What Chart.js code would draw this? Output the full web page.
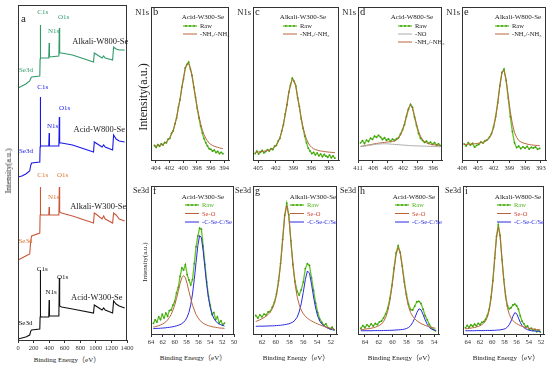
<!DOCTYPE html>
<html>
<head>
<meta charset="utf-8">
<title>XPS survey / N1s / Se3d</title>
<script src="https://cdn.jsdelivr.net/npm/chart.js"></script>
<style>
  body { margin: 0; background: #fff; }
  #fig { position: relative; width: 550px; height: 367px; overflow: hidden;
         font-family: 'Liberation Serif', 'Noto Sans CJK SC', serif; color: #222; }
  #fig canvas { position: absolute; }
  .t { position: absolute; white-space: nowrap; line-height: 1; z-index: 2; }
</style>
</head>
<body>
<div id="fig"></div>
<script>
// ---------- a: survey spectra (binding energy, eV) ----------
var surveyE = [0, 50, 100, 150, 165, 175, 280, 284, 287, 290, 300, 395, 400, 404, 525, 531, 535, 560, 700, 970, 980, 1000, 1080, 1100, 1120, 1215, 1228, 1260, 1300, 1370];
var surveyAlkaliW800 = [252, 254, 256, 259, 262, 263, 264, 281, 315, 282, 282, 282, 297, 283, 284, 312, 287, 287, 285, 278, 287, 286, 282, 284, 282, 280, 293, 291, 290, 290];
var surveyAcidW800 = [163, 164, 166, 169, 175, 177, 178, 193, 243, 194, 194, 194, 207, 194, 194, 223, 197, 197, 195, 188, 198, 197, 193, 195, 193, 190, 205, 201, 199, 198];
var surveyAlkaliW300 = [80, 82, 84, 86, 100, 104, 107, 125, 153, 126, 125, 125, 133, 125, 125, 153, 128, 127, 124, 117, 127, 126, 121, 124, 121, 117, 127, 125, 121, 119];
var surveyAcidW300 = [1, 2, 3, 5, 9, 10, 11, 23, 70, 24, 23, 23, 40, 24, 24, 62, 34, 33, 31, 27, 35, 34, 30, 32, 30, 27, 39, 36, 34, 32];

// ---------- b: N1s Acid-W300-Se ----------
var bE = [404.2, 403.95, 403.7, 403.45, 403.2, 402.95, 402.7, 402.45, 402.2, 401.95, 401.7, 401.45, 401.2, 400.95, 400.7, 400.45, 400.2, 399.95, 399.7, 399.45, 399.2, 398.95, 398.7, 398.45, 398.2, 397.95, 397.7, 397.45, 397.2, 396.95, 396.7, 396.45, 396.2, 395.95, 395.7, 395.45, 395.2, 394.95, 394.7, 394.45, 394.2];
var bRaw = [9.5, 8.2, 10.1, 9.0, 10.6, 9.8, 11.5, 11.2, 13.6, 14.1, 17.5, 19.0, 23.8, 27.5, 34.6, 39.4, 47.5, 53.1, 60.2, 62.5, 64.0, 59.5, 55.3, 47.6, 41.0, 33.8, 27.6, 22.1, 17.6, 14.0, 11.3, 9.2, 7.4, 7.0, 5.8, 6.4, 4.9, 5.6, 4.2, 5.0, 4.1];
var bNH = [9.0, 9.2, 9.35, 9.6, 9.95, 10.3, 11.0, 11.85, 13.0, 14.7, 16.9, 19.7, 23.1, 28.2, 33.9, 40.1, 46.9, 53.7, 59.4, 62.8, 63.0, 60.2, 54.7, 48.4, 41.5, 34.6, 28.9, 23.8, 19.7, 16.5, 14.2, 12.5, 11.0, 10.15, 9.5, 9.0, 8.6, 8.3, 7.95, 7.65, 7.45];

// ---------- c: N1s Alkali-W300-Se ----------
var cE = [405.5, 405.2, 404.9, 404.6, 404.3, 404.0, 403.7, 403.4, 403.1, 402.8, 402.5, 402.2, 401.9, 401.6, 401.3, 401.0, 400.7, 400.4, 400.1, 399.8, 399.5, 399.2, 398.9, 398.6, 398.3, 398.0, 397.7, 397.4, 397.1, 396.8, 396.5, 396.2, 395.9, 395.6, 395.3, 395.0, 394.7, 394.4, 394.1, 393.8, 393.5, 393.2, 392.9, 392.6, 392.3, 392.0];
var cRaw = [4.2, 5.8, 3.9, 5.1, 6.2, 4.7, 5.5, 6.8, 5.9, 7.4, 6.8, 9.0, 9.5, 12.4, 14.1, 18.9, 23.0, 30.1, 36.0, 44.2, 49.0, 53.5, 51.4, 48.5, 40.6, 34.9, 27.0, 20.8, 15.6, 11.2, 7.8, 5.9, 4.2, 5.0, 3.4, 4.5, 2.8, 3.9, 2.2, 3.6, 2.5, 1.8, 3.2, 1.5, 2.6, 1.2];
var cNH = [5.0, 5.1, 5.3, 5.4, 5.6, 5.7, 6.0, 6.2, 6.5, 6.9, 7.6, 8.4, 9.9, 11.8, 14.8, 18.2, 23.6, 29.5, 36.6, 43.7, 49.6, 52.8, 52.0, 47.9, 41.2, 34.4, 27.5, 21.6, 17.2, 13.6, 11.1, 9.4, 8.2, 7.3, 6.8, 6.5, 6.1, 5.9, 5.7, 5.5, 5.4, 5.2, 5.1, 5.0, 4.9, 4.8];

// ---------- d: N1s Acid-W800-Se ----------
var dE = [410.5, 410.1, 409.7, 409.3, 408.9, 408.5, 408.1, 407.7, 407.3, 406.9, 406.5, 406.1, 405.7, 405.3, 404.9, 404.5, 404.1, 403.7, 403.3, 402.9, 402.5, 402.1, 401.7, 401.3, 400.9, 400.5, 400.1, 399.7, 399.3, 398.9, 398.5, 398.1, 397.7, 397.3, 396.9, 396.5, 396.1, 395.7, 395.3, 394.9, 394.5];
var dRaw = [11.2, 12.6, 10.8, 13.0, 12.1, 14.2, 13.5, 15.6, 14.8, 16.1, 15.0, 13.4, 14.6, 12.9, 13.8, 12.2, 13.6, 12.8, 13.9, 14.5, 17.1, 19.8, 23.2, 28.6, 33.2, 36.4, 34.5, 28.1, 22.6, 17.4, 14.2, 12.8, 11.5, 12.3, 10.9, 11.7, 10.2, 11.4, 9.8, 10.6, 9.4];
var dNO = [8.7, 8.9, 9.1, 9.3, 9.5, 9.7, 9.9, 10.1, 10.3, 10.4, 10.5, 10.6, 10.6, 10.6, 10.5, 10.4, 10.3, 10.2, 10.1, 10.0, 9.9, 9.8, 9.7, 9.6, 9.5, 9.4, 9.35, 9.3, 9.25, 9.2, 9.15, 9.1, 9.05, 9.0, 8.95, 8.9, 8.85, 8.8, 8.75, 8.7, 8.65];
var dNH = [8.9, 9.1, 9.3, 9.6, 9.8, 10.1, 10.3, 10.6, 10.8, 11.0, 11.2, 11.4, 11.5, 11.7, 11.8, 11.9, 12.1, 12.4, 13.0, 14.3, 16.3, 19.4, 23.8, 29.0, 34.0, 36.0, 33.8, 28.7, 23.4, 18.8, 15.5, 13.4, 12.0, 11.2, 10.7, 10.3, 10.1, 9.9, 9.7, 9.5, 9.3];

// ---------- e: N1s Alkali-W800-Se ----------
var eE = [407.6, 407.2, 406.8, 406.4, 406.0, 405.6, 405.2, 404.8, 404.4, 404.0, 403.6, 403.2, 402.8, 402.4, 402.0, 401.6, 401.2, 400.8, 400.4, 400.0, 399.6, 399.2, 398.8, 398.4, 398.0, 397.6, 397.2, 396.8, 396.4, 396.0, 395.6, 395.2, 394.8, 394.4, 394.0, 393.6, 393.2];
var eRaw = [10.5, 9.2, 11.4, 9.8, 10.9, 8.4, 9.6, 10.2, 11.8, 11.1, 12.6, 13.2, 14.8, 17.1, 21.6, 28.2, 37.5, 48.6, 57.2, 59.4, 52.0, 40.5, 28.4, 18.6, 11.2, 8.1, 9.0, 7.4, 8.6, 7.7, 8.9, 7.2, 8.3, 7.8, 8.5, 7.0, 7.6];
var eNH = [10.1, 10.2, 10.3, 10.4, 10.5, 10.6, 10.8, 11.0, 11.3, 11.6, 12.1, 12.9, 14.3, 16.7, 21.0, 27.6, 36.8, 47.8, 56.7, 58.7, 52.6, 42.1, 31.6, 23.6, 18.0, 14.8, 12.8, 11.8, 11.2, 10.8, 10.4, 10.1, 9.9, 9.7, 9.6, 9.5, 9.4];

// ---------- f: Se3d Acid-W300-Se ----------
var fE = [63.6, 63.3, 63.0, 62.7, 62.4, 62.1, 61.8, 61.5, 61.2, 60.9, 60.6, 60.3, 60.0, 59.7, 59.4, 59.1, 58.8, 58.5, 58.2, 57.9, 57.6, 57.3, 57.0, 56.7, 56.4, 56.1, 55.8, 55.5, 55.2, 54.9, 54.6, 54.3, 54.0, 53.7, 53.4, 53.1, 52.8, 52.5, 52.2, 51.9, 51.6];
var fRaw = [7.2, 9.5, 8.1, 11.6, 9.8, 13.2, 10.9, 14.1, 12.0, 15.8, 16.2, 19.5, 22.0, 27.8, 31.5, 38.9, 44.6, 43.2, 46.8, 40.1, 36.5, 33.2, 36.8, 47.5, 58.9, 66.2, 71.5, 70.8, 59.4, 47.1, 35.2, 25.6, 19.4, 13.2, 14.5, 9.8, 11.6, 7.5, 8.9, 6.1, 7.4];
var fSeO = [4.7, 4.9, 5.3, 5.6, 6.1, 6.6, 7.3, 8.2, 9.5, 11.2, 13.2, 16.2, 19.5, 24.0, 28.8, 34.0, 38.0, 39.5, 38.0, 34.0, 28.8, 24.0, 19.5, 16.2, 13.2, 11.2, 9.5, 8.2, 7.3, 6.6, 6.1, 5.6, 5.3, 4.9, 4.7, 4.5, 4.3, 4.1, 4.0, 3.9, 3.8];
var fCSe = [3.7, 3.7, 3.8, 3.8, 3.9, 4.0, 4.1, 4.2, 4.4, 4.5, 4.7, 4.9, 5.2, 5.5, 5.9, 6.3, 7.0, 7.9, 9.3, 11.4, 14.6, 19.7, 27.0, 36.8, 48.4, 59.7, 66.6, 65.0, 56.2, 44.4, 33.3, 24.2, 17.7, 13.4, 10.6, 8.8, 7.5, 6.7, 6.2, 5.8, 5.4];

// ---------- g: Se3d Alkali-W300-Se ----------
var gE = [62.9, 62.6, 62.3, 62.0, 61.7, 61.4, 61.1, 60.8, 60.5, 60.2, 59.9, 59.6, 59.3, 59.0, 58.7, 58.4, 58.1, 57.8, 57.5, 57.2, 56.9, 56.6, 56.3, 56.0, 55.7, 55.4, 55.1, 54.8, 54.5, 54.2, 53.9, 53.6, 53.3, 53.0, 52.7, 52.4, 52.1, 51.8, 51.5];
var gRaw = [12.5, 10.8, 12.9, 11.6, 13.4, 12.8, 14.9, 15.2, 18.1, 21.4, 27.0, 35.8, 47.6, 63.9, 80.2, 88.4, 80.6, 63.1, 47.2, 35.6, 28.9, 26.4, 29.8, 35.1, 44.2, 47.5, 46.3, 37.9, 29.4, 20.8, 14.6, 10.1, 7.8, 5.9, 6.8, 4.2, 3.5, 4.6, 2.8];
var gSeO = [8.5, 9.0, 9.6, 10.3, 11.1, 12.0, 13.2, 14.8, 17.0, 20.6, 26.0, 34.5, 46.8, 62.5, 79.4, 87.0, 79.3, 62.4, 46.6, 34.1, 25.5, 19.9, 16.2, 13.7, 12.0, 10.7, 9.7, 8.8, 8.1, 7.4, 6.8, 6.2, 5.7, 5.2, 4.7, 4.3, 3.9, 3.6, 3.3];
var gCSe = [5.2, 5.2, 5.3, 5.3, 5.3, 5.4, 5.4, 5.5, 5.5, 5.6, 5.7, 5.8, 5.9, 6.1, 6.3, 6.6, 6.9, 7.4, 8.1, 9.3, 11.3, 14.8, 20.4, 28.1, 36.7, 42.6, 41.1, 33.7, 25.0, 17.5, 12.0, 8.7, 6.7, 5.4, 4.6, 4.0, 3.4, 2.9, 2.6];

// ---------- h: Se3d Acid-W800-Se ----------
var hE = [64.6, 64.3, 64.0, 63.7, 63.4, 63.1, 62.8, 62.5, 62.2, 61.9, 61.6, 61.3, 61.0, 60.7, 60.4, 60.1, 59.8, 59.5, 59.2, 58.9, 58.6, 58.3, 58.0, 57.7, 57.4, 57.1, 56.8, 56.5, 56.2, 55.9, 55.6, 55.3, 55.0, 54.7, 54.4, 54.1, 53.8];
var hRaw = [3.8, 5.6, 4.4, 6.2, 5.0, 6.8, 5.4, 7.1, 6.3, 8.2, 8.8, 10.9, 13.6, 17.4, 24.1, 32.9, 44.5, 54.8, 59.6, 55.1, 45.9, 35.2, 26.8, 20.1, 16.5, 16.2, 18.9, 21.8, 22.1, 20.6, 16.8, 12.4, 9.6, 6.5, 4.2, 3.1, 2.2];
var hSeO = [3.0, 3.1, 3.3, 3.5, 3.6, 3.9, 4.2, 4.6, 5.1, 5.8, 6.8, 8.5, 11.2, 15.6, 22.3, 31.7, 43.0, 53.5, 58.5, 54.8, 44.8, 34.0, 25.0, 18.6, 14.5, 12.0, 10.2, 8.9, 7.9, 7.1, 6.4, 5.8, 5.3, 4.9, 4.5, 4.2, 3.9];
var hCSe = [2.2, 2.2, 2.2, 2.2, 2.2, 2.2, 2.3, 2.3, 2.3, 2.3, 2.3, 2.4, 2.4, 2.4, 2.5, 2.5, 2.6, 2.7, 2.8, 2.9, 3.0, 3.3, 3.7, 4.4, 5.6, 7.8, 10.8, 14.4, 17.0, 16.4, 13.2, 9.5, 6.6, 4.4, 3.4, 2.8, 2.4];

// ---------- i: Se3d Alkali-W800-Se ----------
var iE = [64.4, 64.1, 63.8, 63.5, 63.2, 62.9, 62.6, 62.3, 62.0, 61.7, 61.4, 61.1, 60.8, 60.5, 60.2, 59.9, 59.6, 59.3, 59.0, 58.7, 58.4, 58.1, 57.8, 57.5, 57.2, 56.9, 56.6, 56.3, 56.0, 55.7, 55.4, 55.1, 54.8, 54.5, 54.2, 53.9, 53.6, 53.3, 53.0, 52.7, 52.4, 52.1];
var iRaw = [4.2, 5.8, 4.6, 6.1, 5.2, 6.6, 5.5, 7.2, 6.4, 7.9, 8.3, 9.9, 12.6, 16.8, 24.9, 36.1, 51.2, 66.0, 73.8, 66.5, 50.2, 36.8, 25.6, 19.2, 17.0, 17.8, 19.6, 20.2, 19.1, 16.8, 12.3, 8.6, 6.9, 4.8, 5.4, 3.2, 3.9, 2.4, 3.1, 1.6, 2.5, 1.3];
var iSeO = [3.5, 3.6, 3.8, 4.0, 4.2, 4.4, 4.7, 5.1, 5.6, 6.3, 7.3, 8.8, 11.4, 15.9, 23.6, 35.2, 50.4, 65.5, 72.5, 65.8, 51.0, 36.2, 25.0, 17.6, 13.2, 10.6, 9.0, 7.9, 7.0, 6.3, 5.7, 5.2, 4.8, 4.4, 4.1, 3.8, 3.6, 3.4, 3.2, 3.0, 2.9, 2.8];
var iCSe = [2.2, 2.2, 2.2, 2.2, 2.2, 2.2, 2.3, 2.3, 2.3, 2.3, 2.3, 2.4, 2.4, 2.4, 2.4, 2.5, 2.5, 2.6, 2.7, 2.8, 3.0, 3.3, 3.7, 4.7, 6.3, 8.8, 12.0, 14.4, 13.8, 10.9, 7.9, 5.6, 4.3, 3.5, 2.9, 2.5, 2.3, 2.1, 2.0, 1.9, 1.8, 1.8];

// ---------- styling ----------
var FONT = "'Liberation Serif', 'Noto Sans CJK SC', serif";
var GREEN = '#62c424', GREEN_DOT = '#3e9c12', GREEN_TXT = '#4fb51c';
var BROWN = '#b9653c', RED_TXT = '#d2452e', BLUE = '#2a2ae2', GRAY = '#aaaaaa';
var C_TEAL = '#2f9a68', C_BLUE = '#1818e8', C_RED = '#c8573a', C_RED_TXT = '#d9762f', C_BLACK = '#111';
var PAD = 12, AXIS_H = 14;
Chart.defaults.font.family = FONT;

var fig = document.getElementById('fig');

function pts(xs, ys) {
  return xs.map(function (x, i) { return { x: x, y: ys[i] }; });
}

function label(s, x, y, size, o) {
  o = o || {};
  var d = document.createElement('div');
  d.className = 't';
  d.textContent = s;
  d.style.fontSize = size + 'px';
  d.style.left = x + 'px';
  d.style.top = y + 'px';
  var tx = o.align === 'left' ? '0' : (o.align === 'right' ? '-100%' : '-50%');
  d.style.transform = 'translate(' + tx + ',-50%)' + (o.rot ? ' rotate(-90deg)' : '');
  if (o.color) d.style.color = o.color;
  fig.appendChild(d);
}

// frame round the plot area
var framePlugin = {
  id: 'frame',
  afterDatasetsDraw: function (c) {
    var a = c.chartArea, x = c.ctx;
    x.save();
    x.strokeStyle = '#333';
    x.lineWidth = 1;
    x.strokeRect(a.left + 0.5, a.top + 0.5, a.right - a.left - 1, a.bottom - a.top);
    x.restore();
  }
};

function legendPlugin(lg) {
  return {
    id: 'boxLegend',
    afterDatasetsDraw: function (c) {
      if (!lg) return;
      var a = c.chartArea, ctx = c.ctx;
      ctx.save();
      ctx.textBaseline = 'middle';
      ctx.fillStyle = '#222';
      ctx.textAlign = 'center';
      ctx.font = '7px ' + FONT;
      ctx.fillText(lg.title, a.left + lg.tx, a.top + lg.ty);
      lg.items.forEach(function (it, i) {
        var y = a.top + lg.y0 + i * lg.dy, x0 = a.left + lg.lx;
        ctx.strokeStyle = it.c;
        ctx.lineWidth = it.m ? 1.3 : 1;
        ctx.beginPath(); ctx.moveTo(x0, y); ctx.lineTo(x0 + 14, y); ctx.stroke();
        if (it.m) {
          ctx.fillStyle = GREEN_DOT;
          [3, 7, 11].forEach(function (dx) { ctx.beginPath(); ctx.arc(x0 + dx, y, 0.9, 0, Math.PI * 2); ctx.fill(); });
        }
        ctx.fillStyle = it.tc || '#222';
        ctx.textAlign = 'left';
        ctx.font = '6.5px ' + FONT;
        ctx.fillText(it.t, x0 + 17, y + 0.5);
      });
      ctx.restore();
    }
  };
}

function textPlugin(list) {
  return {
    id: 'peakText',
    afterDatasetsDraw: function (c) {
      if (!list) return;
      var ctx = c.ctx;
      ctx.save();
      ctx.textAlign = 'center';
      ctx.textBaseline = 'middle';
      list.forEach(function (l) {
        ctx.fillStyle = l[3];
        ctx.font = l[4] + 'px ' + FONT;
        ctx.fillText(l[0], c.scales.x.getPixelForValue(l[1]), c.scales.y.getPixelForValue(l[2]));
      });
      ctx.restore();
    }
  };
}

function makeChart(p) {
  var w = p.box[2] - p.box[0], h = p.box[3] - p.box[1];
  var cv = document.createElement('canvas');
  cv.width = w + 2 * PAD;
  cv.height = h + 2 + AXIS_H;
  cv.style.left = (p.box[0] - PAD) + 'px';
  cv.style.top = (p.box[1] - 2) + 'px';
  fig.appendChild(cv);
  var datasets = p.sets.map(function (s) {
    var raw = s[3] === 'raw';
    return {
      data: pts(s[0], s[1]),
      borderColor: s[2],
      borderWidth: s[4] || (raw ? 1.3 : 1),
      pointRadius: raw ? 0.9 : 0,
      pointBackgroundColor: GREEN_DOT,
      pointBorderWidth: 0,
      order: raw ? 2 : 1,
      fill: false,
      tension: 0
    };
  });
  return new Chart(cv, {
    type: 'line',
    data: { datasets: datasets },
    plugins: [framePlugin, legendPlugin(p.legend), textPlugin(p.texts)],
    options: {
      responsive: false,
      animation: false,
      events: [],
      layout: { padding: { left: PAD, right: PAD, top: 2, bottom: 0 } },
      plugins: { legend: { display: false }, tooltip: { enabled: false } },
      scales: {
        x: {
          type: 'linear',
          reverse: p.reverse,
          min: p.range[0], max: p.range[1],
          afterFit: function (s) { s.height = AXIS_H; },
          grid: { drawOnChartArea: false, tickLength: 3, color: '#333' },
          border: { color: '#333' },
          ticks: { stepSize: p.step, includeBounds: false, autoSkip: false, maxRotation: 0,
                   padding: 1, color: '#333', font: { family: FONT, size: 6.5 },
                   callback: function (v) { return String(v); } }
        },
        y: { display: false, min: p.yr[0], max: p.yr[1] }
      }
    }
  });
}

var NH_LABEL = '-NH\u2082/-NH\u2083';
var topItems = [{ t: 'Raw', c: GREEN, m: 1 }, { t: NH_LABEL, c: BROWN }];
var dItems = [{ t: 'Raw', c: GREEN, m: 1 }, { t: '-NO', c: GRAY }, { t: NH_LABEL, c: BROWN }];
var seItems = [{ t: 'Raw', c: GREEN, m: 1, tc: GREEN_TXT }, { t: 'Se-O', c: BROWN, tc: RED_TXT }, { t: '-C-Se-C/Se', c: BLUE, tc: BLUE }];

var surveyTexts = [
  ['C1s', 318, 328, C_TEAL, 7], ['O1s', 585, 323, C_TEAL, 7], ['N1s', 458, 309, C_TEAL, 7], ['Se3d', 102, 270, C_TEAL, 7],
  ['Alkali-W800-Se', 1056, 298, '#222', 8.5],
  ['C1s', 318, 253, C_BLUE, 7], ['O1s', 598, 232, C_BLUE, 7], ['N1s', 445, 214, C_BLUE, 7], ['Se3d', 102, 189, C_BLUE, 7],
  ['Acid-W800-Se', 1044, 210, '#222', 8.5],
  ['C1s', 318, 165, C_RED_TXT, 7], ['O1s', 573, 165, C_RED_TXT, 7], ['N1s', 458, 143, C_RED_TXT, 7], ['Se3d', 95, 99, C_RED_TXT, 7],
  ['Alkali-W300-Se', 1031, 133, '#222', 8.5],
  ['C1s', 312, 71, C_BLACK, 7], ['O1s', 573, 63, C_BLACK, 7], ['N1s', 426, 48, C_BLACK, 7], ['Se3d', 95, 17, C_BLACK, 7],
  ['Acid-W300-Se', 1012, 42, '#222', 8.5]
];

var panels = [
  { box: [18, 5, 127, 340], range: [0, 1400], step: 200, reverse: false, yr: [0, 335], texts: surveyTexts,
    sets: [[surveyE, surveyAlkaliW800, C_TEAL, 'fit', 1.1], [surveyE, surveyAcidW800, C_BLUE, 'fit', 1.1],
           [surveyE, surveyAlkaliW300, C_RED, 'fit', 1.1], [surveyE, surveyAcidW300, C_BLACK, 'fit', 1.1]] },
  { box: [151, 5, 229, 160], range: [393.3, 404.7], step: 2, reverse: true, yr: [0, 100],
    sets: [[bE, bRaw, GREEN, 'raw'], [bE, bNH, BROWN]],
    legend: { title: 'Acid-W300-Se', tx: 52, ty: 10, lx: 32, y0: 19, dy: 8, items: topItems } },
  { box: [253, 5, 339, 160], range: [391.3, 405.85], step: 3, reverse: true, yr: [0, 100],
    sets: [[cE, cRaw, GREEN, 'raw'], [cE, cNH, BROWN]],
    legend: { title: 'Alkali-W300-Se', tx: 50, ty: 10, lx: 30, y0: 19, dy: 8, items: topItems } },
  { box: [358, 5, 442, 160], range: [394.2, 411], step: 3, reverse: true, yr: [0, 100],
    sets: [[dE, dRaw, GREEN, 'raw'], [dE, dNO, GRAY], [dE, dNH, BROWN]],
    legend: { title: 'Acid-W800-Se', tx: 54, ty: 10, lx: 40, y0: 19, dy: 8, items: dItems } },
  { box: [462, 5, 546, 160], range: [392, 408], step: 3, reverse: true, yr: [0, 100],
    sets: [[eE, eRaw, GREEN, 'raw'], [eE, eNH, BROWN]],
    legend: { title: 'Alkali-W800-Se', tx: 56, ty: 10, lx: 33, y0: 19, dy: 8, items: topItems } },
  { box: [151, 184, 234, 334], range: [50, 64], step: 2, reverse: true, yr: [0, 100],
    sets: [[fE, fRaw, GREEN, 'raw'], [fE, fSeO, BROWN], [fE, fCSe, BLUE]],
    legend: { title: 'Acid-W300-Se', tx: 52, ty: 11, lx: 34, y0: 19, dy: 8.5, items: seItems } },
  { box: [253, 184, 337, 334], range: [51.1, 63.3], step: 2, reverse: true, yr: [0, 100],
    sets: [[gE, gRaw, GREEN, 'raw'], [gE, gSeO, BROWN], [gE, gCSe, BLUE]],
    legend: { title: 'Alkali-W300-Se', tx: 60, ty: 11, lx: 37, y0: 19, dy: 8.5, items: seItems } },
  { box: [358, 184, 439, 334], range: [53.3, 65], step: 2, reverse: true, yr: [0, 100],
    sets: [[hE, hRaw, GREEN, 'raw'], [hE, hSeO, BROWN], [hE, hCSe, BLUE]],
    legend: { title: 'Acid-W800-Se', tx: 56, ty: 11, lx: 37, y0: 19, dy: 8.5, items: seItems } },
  { box: [463, 184, 544, 334], range: [51.5, 64.8], step: 2, reverse: true, yr: [0, 100],
    sets: [[iE, iRaw, GREEN, 'raw'], [iE, iSeO, BROWN], [iE, iCSe, BLUE]],
    legend: { title: 'Alkali-W800-Se', tx: 55, ty: 11, lx: 34, y0: 19, dy: 8.5, items: seItems } }
];

panels.forEach(makeChart);

// panel letters and core-level tags
label('a', 21, 18, 11, { align: 'left' });
[['b', 151], ['c', 253], ['d', 358], ['e', 462]].forEach(function (p) {
  label('N1s', p[1] - 2, 12, 8.5, { align: 'right' });
  label(p[0], p[1] + 2, 12, 10.5, { align: 'left' });
});
[['f', 151], ['g', 253], ['h', 358], ['i', 463]].forEach(function (p) {
  label('Se3d', p[1] - 2, 191, 8, { align: 'right' });
  label(p[0], p[1] + 2, 191, 10, { align: 'left' });
});

// axis titles
label('Intensity(a.u.)', 9, 171, 8, { rot: true });
label('Intensity(a.u.)', 143, 97, 12, { rot: true });
label('Intensity(a.u.)', 145, 262, 7, { rot: true });
var BE = 'Binding Energy\uFF08eV\uFF09';
label(BE, 67, 360, 7);
label(BE, 193, 358, 7);
label(BE, 296, 358, 7);
label(BE, 401, 358, 7);
label(BE, 506, 358, 7);
</script>
</body>
</html>
